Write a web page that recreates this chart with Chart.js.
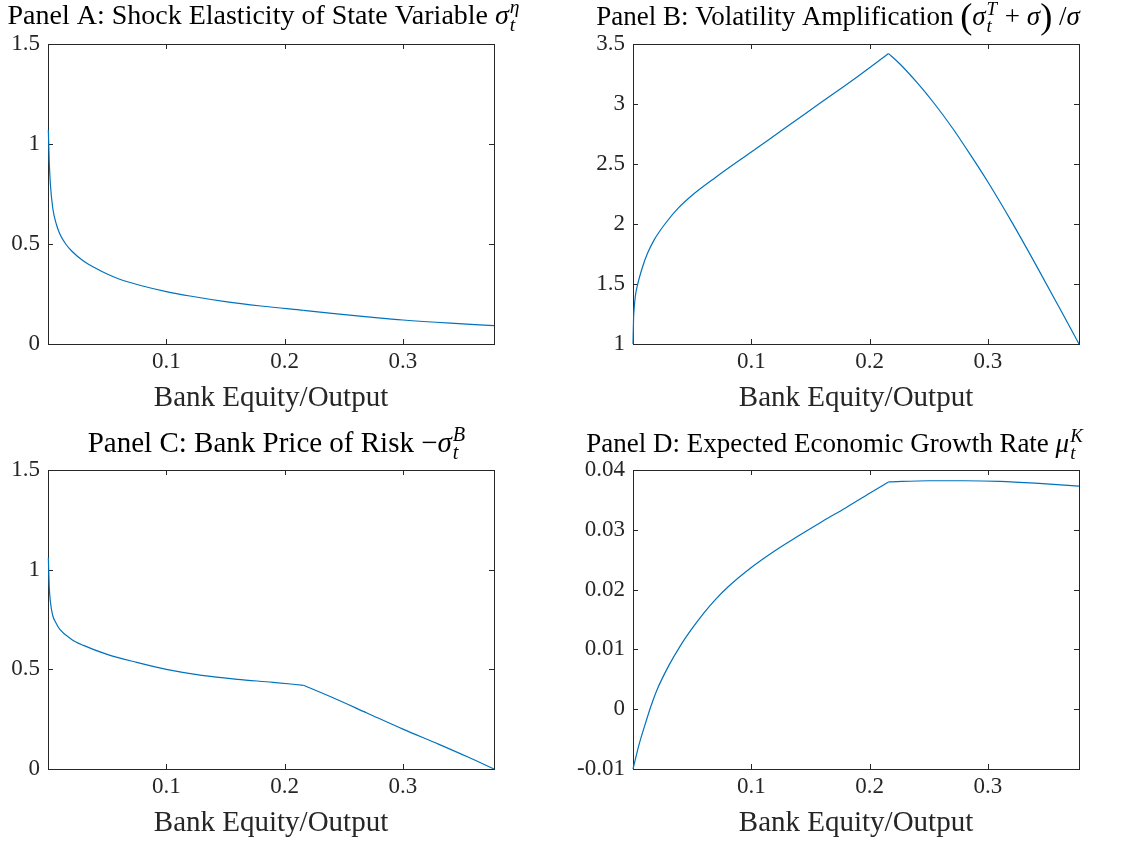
<!DOCTYPE html>
<html>
<head>
<meta charset="utf-8">
<script src="https://cdn.jsdelivr.net/npm/chart.js@4/dist/chart.umd.min.js"></script>
<style>
  body { margin: 0; background: #fff; }
  #wrap { position: relative; width: 1125px; height: 842px; overflow: hidden; }
  canvas { position: absolute; }
</style>
</head>
<body>
<div id="wrap">
  <canvas id="panelA" width="562" height="421" style="left:0;top:0"></canvas>
  <canvas id="panelB" width="563" height="421" style="left:562px;top:0"></canvas>
  <canvas id="panelC" width="562" height="421" style="left:0;top:421px"></canvas>
  <canvas id="panelD" width="563" height="421" style="left:562px;top:421px"></canvas>
</div>
<script>
// x axis: bank equity / output
const xMin = 0;
const xMax = 0.377;
const xTicks = [0.1, 0.2, 0.3];
const kinkX = 0.216;

// Panel A: shock elasticity of state variable
const shockX = [0.0003, 0.001, 0.002, 0.004, 0.007, 0.01, 0.015, 0.02, 0.03, 0.04, 0.05, 0.06, 0.08, 0.1, 0.12, 0.15, 0.18, 0.216, 0.24, 0.27, 0.3, 0.34, 0.377];
const shockY = [1.07, 0.92, 0.80, 0.68, 0.60, 0.55, 0.50, 0.465, 0.415, 0.38, 0.35, 0.325, 0.29, 0.262, 0.24, 0.212, 0.19, 0.168, 0.153, 0.136, 0.12, 0.104, 0.092];
const shockTicks = [0, 0.5, 1, 1.5];

// Panel B: volatility amplification
const amplX = [0, 0.0005, 0.001, 0.002, 0.004, 0.008, 0.012, 0.018, 0.027, 0.038, 0.05, 0.07, 0.1, 0.13, 0.16, 0.19, 0.216, 0.225, 0.24, 0.255, 0.27, 0.285, 0.3, 0.32, 0.34, 0.36, 0.377];
const amplY = [1.0, 1.22, 1.3, 1.4, 1.5, 1.64, 1.75, 1.87, 2.0, 2.13, 2.24, 2.39, 2.6, 2.81, 3.02, 3.23, 3.42, 3.34, 3.18, 3.0, 2.8, 2.58, 2.35, 2.02, 1.67, 1.31, 1.0];
const amplTicks = [1, 1.5, 2, 2.5, 3, 3.5];

// Panel C: bank price of risk
const riskX = [0.0003, 0.001, 0.002, 0.004, 0.007, 0.01, 0.02, 0.03, 0.05, 0.075, 0.1, 0.13, 0.16, 0.19, 0.216, 0.24, 0.27, 0.3, 0.33, 0.355, 0.377];
const riskY = [1.06, 0.92, 0.84, 0.77, 0.73, 0.70, 0.65, 0.62, 0.575, 0.535, 0.5, 0.47, 0.45, 0.435, 0.42, 0.36, 0.28, 0.2, 0.125, 0.06, 0.0];
const riskTicks = [0, 0.5, 1, 1.5];

// Panel D: expected economic growth rate
const growthX = [0, 0.005, 0.01, 0.015, 0.02, 0.03, 0.04, 0.05, 0.06, 0.07, 0.08, 0.1, 0.12, 0.14, 0.16, 0.18, 0.2, 0.216, 0.25, 0.28, 0.31, 0.34, 0.377];
const growthY = [-0.01, -0.006, -0.0027, 0.0004, 0.0031, 0.0072, 0.0106, 0.0135, 0.0161, 0.0184, 0.0204, 0.0237, 0.0265, 0.029, 0.0314, 0.0337, 0.0361, 0.038, 0.0382, 0.0382, 0.0381, 0.0378, 0.0373];
const growthTicks = [-0.01, 0, 0.01, 0.02, 0.03, 0.04];

const serif = '"Liberation Serif", "Times New Roman", serif';
const axisColor = '#262626';
const lineColor = '#0072BD';

// draws title text with italic symbols and stacked sub/superscripts
function drawRichTitle(ctx, segs, cx, baseY, size) {
  const font = (it, s) => (it ? 'italic ' : '') + s + 'px ' + serif;
  const widths = segs.map(s => {
    if (s.sup !== undefined) {
      ctx.font = font(true, size * 0.7);
      return Math.max(ctx.measureText(s.sup).width, ctx.measureText(s.sub).width) + 2;
    }
    ctx.font = font(s.it, s.big ? size * 1.35 : size);
    return ctx.measureText(s.t).width;
  });
  let x = cx - widths.reduce((a, b) => a + b, 0) / 2;
  ctx.fillStyle = '#000';
  ctx.textBaseline = 'alphabetic';
  ctx.textAlign = 'left';
  segs.forEach((s, i) => {
    if (s.sup !== undefined) {
      ctx.font = font(true, size * 0.7);
      ctx.fillText(s.sup, x + 1, baseY - size * 0.38);
      ctx.fillText(s.sub, x + 1, baseY + size * 0.25);
    } else {
      ctx.font = font(s.it, s.big ? size * 1.35 : size);
      ctx.fillText(s.t, x, baseY + (s.big ? size * 0.1 : 0));
    }
    x += widths[i];
  });
}

// MATLAB style box with inward ticks on all four sides, plus the title
const boxPlugin = {
  id: 'boxPlugin',
  beforeDatasetsDraw(chart) {
    const { ctx, chartArea: a, scales: { x, y } } = chart;
    ctx.save();
    ctx.strokeStyle = axisColor;
    ctx.lineWidth = 1;
    ctx.beginPath();
    x.ticks.forEach(t => {
      const px = Math.round(x.getPixelForValue(t.value)) + 0.5;
      ctx.moveTo(px, a.bottom); ctx.lineTo(px, a.bottom - 5);
      ctx.moveTo(px, a.top); ctx.lineTo(px, a.top + 5);
    });
    y.ticks.forEach(t => {
      const py = Math.round(y.getPixelForValue(t.value)) + 0.5;
      ctx.moveTo(a.left, py); ctx.lineTo(a.left + 5, py);
      ctx.moveTo(a.right, py); ctx.lineTo(a.right - 5, py);
    });
    ctx.stroke();
    ctx.strokeRect(Math.round(a.left) + 0.5, Math.round(a.top) + 0.5,
      Math.round(a.right - a.left), Math.round(a.bottom - a.top));
    ctx.restore();
  },
  afterDraw(chart, args, opts) {
    const { ctx } = chart;
    ctx.save();
    drawRichTitle(ctx, opts.segs, opts.cx, opts.base, opts.size);
    ctx.restore();
  }
};

function makePanel(id, xs, ys, yTicks, box, title) {
  const cut = xs.indexOf(kinkX);
  const pts = xs.map((x, i) => ({ x: x, y: ys[i] }));
  const line = data => ({
    data: data,
    borderColor: lineColor,
    borderWidth: 1.2,
    pointRadius: 0,
    cubicInterpolationMode: 'monotone',
    clip: false
  });
  return new Chart(document.getElementById(id), {
    type: 'line',
    data: { datasets: [line(pts.slice(0, cut + 1)), line(pts.slice(cut))] },
    options: {
      responsive: false,
      animation: false,
      events: [],
      layout: { padding: { top: box.top, right: box.right, left: 0, bottom: 0 } },
      plugins: {
        legend: { display: false },
        tooltip: { enabled: false },
        boxPlugin: title
      },
      scales: {
        x: {
          type: 'linear',
          min: xMin,
          max: xMax,
          afterBuildTicks: s => { s.ticks = xTicks.map(v => ({ value: v })); },
          afterFit: s => { s.height = box.xh; },
          grid: { display: false, drawTicks: false },
          border: { display: false },
          ticks: {
            color: axisColor,
            font: { family: serif, size: 23 },
            padding: 4,
            maxRotation: 0,
            callback: v => String(v)
          },
          title: {
            display: true,
            text: 'Bank Equity/Output',
            color: axisColor,
            font: { family: serif, size: 29, lineHeight: 1 },
            padding: { top: 0, bottom: box.xh - 54 - 14.5 }
          }
        },
        y: {
          type: 'linear',
          min: yTicks[0],
          max: yTicks[yTicks.length - 1],
          afterBuildTicks: s => { s.ticks = yTicks.map(v => ({ value: v })); },
          afterFit: s => { s.width = box.yw; },
          grid: { display: false, drawTicks: false },
          border: { display: false },
          ticks: {
            color: axisColor,
            font: { family: serif, size: 23 },
            padding: 8,
            callback: v => String(v)
          }
        }
      }
    },
    plugins: [boxPlugin]
  });
}

makePanel('panelA', shockX, shockY, shockTicks,
  { top: 44, right: 68, xh: 77, yw: 48 },
  { cx: 264, base: 24, size: 28, segs: [
    { t: 'Panel A: Shock Elasticity of State Variable ' },
    { t: 'σ', it: true },
    { sup: 'η', sub: 't' }
  ] });

makePanel('panelB', amplX, amplY, amplTicks,
  { top: 44, right: 46, xh: 77, yw: 71 },
  { cx: 276, base: 25, size: 27, segs: [
    { t: 'Panel B: Volatility Amplification ' },
    { t: '(', big: true },
    { t: 'σ', it: true },
    { sup: 'T', sub: 't' },
    { t: ' + ' },
    { t: 'σ', it: true },
    { t: ')', big: true },
    { t: ' /' },
    { t: 'σ', it: true }
  ] });

makePanel('panelC', riskX, riskY, riskTicks,
  { top: 49, right: 68, xh: 73, yw: 48 },
  { cx: 277, base: 31, size: 29, segs: [
    { t: 'Panel C: Bank Price of Risk ' },
    { t: '−' },
    { t: 'σ', it: true },
    { sup: 'B', sub: 't' }
  ] });

makePanel('panelD', growthX, growthY, growthTicks,
  { top: 49, right: 46, xh: 73, yw: 71 },
  { cx: 273, base: 31, size: 27, segs: [
    { t: 'Panel D: Expected Economic Growth Rate ' },
    { t: 'μ', it: true },
    { sup: 'K', sub: 't' }
  ] });
</script>
</body>
</html>
